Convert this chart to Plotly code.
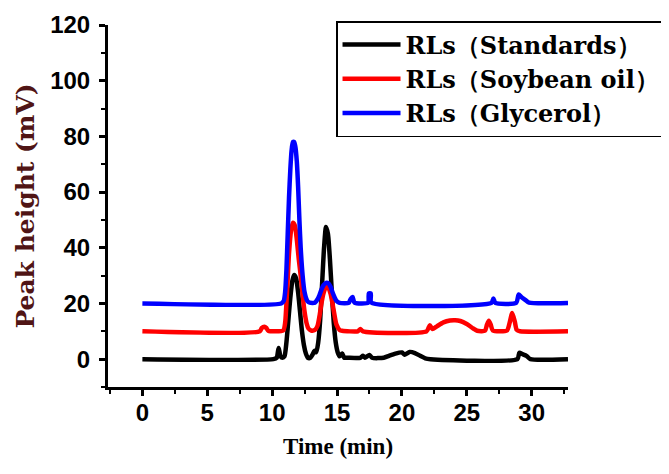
import plotly.graph_objects as go

# ---- data ----
series_names = ["RLs（Standards）", "RLs（Soybean oil）", "RLs（Glycerol）"]
series_colors = ["#000000", "#ff0000", "#0000ff"]

std_time = [0, 10.1, 10.35, 10.5, 10.65, 10.8, 10.95, 11.1, 11.25, 11.4, 11.55, 11.7, 11.85, 12.0,
            12.15, 12.3, 12.45, 12.6, 12.75, 12.95, 13.1, 13.25, 13.4, 13.55, 13.7, 13.85, 14.0,
            14.15, 14.3, 14.45, 14.6, 14.75, 14.9, 15.05, 15.2, 15.4, 15.55, 15.8, 16.8, 17.0,
            17.15, 17.5, 17.7, 18.6, 19.0, 19.5, 20.0, 20.2, 20.6, 21.0, 21.4, 21.8, 22.2, 28.9,
            29.05, 29.3, 29.6, 29.9, 32.8]
std_value = [0, 0, 0.5, 4, 1, 0.5, 1, 6, 14, 22, 28, 30.2, 29, 24,
             17, 10, 5, 2, 0.5, 0.5, 1.5, 3, 2.5, 6, 14, 27, 40,
             47.5, 45, 36, 24, 13, 6, 2.5, 1, 2, 0.5, 0.5, 0.5, 1.2,
             0.5, 1.5, 0.5, 0.5, 1.2, 2.0, 2.4, 1.6, 2.6, 2.2, 1.2, 0.3, 0, 0,
             2.3, 1.8, 1.2, 0, 0]

soy_time = [0, 9.05, 9.2, 9.4, 9.55, 9.7, 10.85, 11.0, 11.1, 11.2, 11.3, 11.45, 11.6, 11.75, 11.9,
            12.05, 12.2, 12.35, 12.5, 12.65, 12.8, 13.0, 13.3, 13.5, 13.65, 13.8, 13.95, 14.1, 14.2,
            14.35, 14.5, 14.65, 14.8, 14.95, 15.2, 15.4, 16.6, 16.8, 17.0, 21.9, 22.15, 22.35, 22.7,
            23.2, 23.7, 24.1, 24.5, 25.0, 25.5, 25.8, 26.4, 26.55, 26.7, 26.85, 27.0, 28.1, 28.3,
            28.5, 28.7, 28.85, 29.1, 32.8]
soy_value = [10, 10, 11.2, 11.6, 11.2, 10.2, 10.3, 13, 20, 29, 38, 46, 49, 48, 43,
             36, 30, 23, 17, 13, 11, 10.3, 10.5, 12, 15.5, 20, 23.5, 25.5, 26,
             25.5, 23.5, 20, 16, 12.5, 10.5, 10.2, 10, 10.8, 10, 10, 12.2, 10.8, 11.8,
             13.2, 13.9, 14, 13.7, 12.6, 11, 10.2, 10.2, 12.3, 13.8, 12.3, 10.3, 10.3, 13,
             16.6, 13.5, 10.5, 10, 10]

gly_time = [0, 10.7, 10.9, 11.0, 11.1, 11.2, 11.3, 11.4, 11.5, 11.6, 11.7, 11.8, 11.9, 12.0,
            12.1, 12.2, 12.35, 12.5, 12.7, 12.9, 13.3, 13.5, 13.65, 13.8, 13.95, 14.1, 14.2, 14.35,
            14.5, 14.65, 14.8, 14.95, 15.2, 15.9, 16.05, 16.2, 16.35, 17.4, 17.45, 17.6, 17.65,
            26.9, 27.05, 27.2, 28.8, 29.0, 29.2, 29.5, 29.8, 32.8]
gly_value = [20, 20, 21, 24, 32, 45, 58, 68, 75, 78, 78, 76, 71, 62,
             50, 40, 30, 24, 21, 20.3, 20.3, 21.5, 23, 25, 26.5, 27.2, 27.4, 27.2,
             26, 24, 22.3, 21, 20.2, 20.2, 21.6, 22.3, 20.3, 20.3, 23.6, 23.6, 20.3,
             20.2, 21.8, 20.2, 20.2, 23.2, 22.3, 21.3, 20.3, 20.2]

x_tick_values = [0, 5, 10, 15, 20, 25, 30]
y_tick_values = [0, 20, 40, 60, 80, 100, 120]

times = [std_time, soy_time, gly_time]
values = [std_value, soy_value, gly_value]

fig = go.Figure()
for name, color, t, v in zip(series_names, series_colors, times, values):
    fig.add_trace(go.Scatter(x=t, y=v, mode="lines", name=name,
                             line=dict(color=color, width=4.5, shape="spline", smoothing=0.6)))

tick_font = dict(family="Liberation Sans, Arial", size=24, color="black", weight="bold")
axis_common = dict(showline=True, linecolor="black", linewidth=3, ticks="outside",
                   ticklen=6, tickwidth=2.5, tickcolor="black", showgrid=False,
                   zeroline=False, tickfont=tick_font, mirror=False, automargin=False)

# the page body adds an 8 px offset, so margins are reduced accordingly
fig.update_layout(
    width=669, height=474,
    margin=dict(l=100, r=109, t=17, b=95, autoexpand=False),
    paper_bgcolor="white", plot_bgcolor="white",
    showlegend=True,
    legend=dict(x=0.4957, y=1.011, xanchor="left", yanchor="top",
                bordercolor="black", borderwidth=1.5, bgcolor="white",
                font=dict(family="DejaVu Serif", size=24, color="black", weight="bold"),
                itemwidth=58, tracegroupgap=0),
    xaxis=dict(range=[-2.65, 32.8], tickvals=x_tick_values, ticklabelstandoff=-4,
               minor=dict(dtick=2.5, tick0=0, ticklen=4, tickwidth=2, tickcolor="black", ticks="outside"),
               title=dict(text="Time (min)", standoff=14,
                          font=dict(family="Liberation Serif, Times New Roman", size=23,
                                    color="black", weight="bold")),
               **axis_common),
    yaxis=dict(range=[-10, 120], tickvals=y_tick_values, ticklabelstandoff=4,
               minor=dict(dtick=10, tick0=0, ticklen=4, tickwidth=2, tickcolor="black", ticks="outside"),
               title=dict(text="Peak height (mV)", standoff=9,
                          font=dict(family="DejaVu Serif", size=25,
                                    color="#501515", weight="bold")),
               **axis_common),
)

fig.write_html("out.html")
